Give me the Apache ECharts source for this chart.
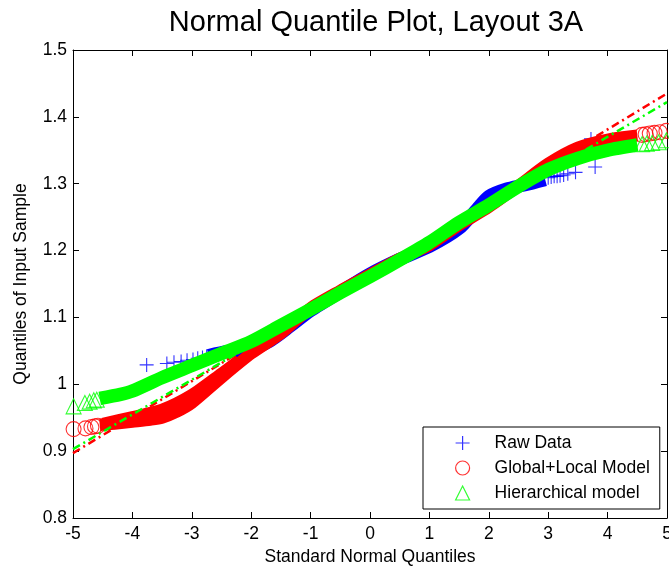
<!DOCTYPE html>
<html>
<head>
<meta charset="utf-8">
<title>Normal Quantile Plot, Layout 3A</title>
<script src="https://cdn.jsdelivr.net/npm/echarts@6/dist/echarts.min.js"></script>
<style>
  html, body { margin: 0; padding: 0; background: #fff; overflow: hidden; }
  #chart { width: 669px; height: 571px; }
</style>
</head>
<body>
<div id="chart"></div>
<script>
// Quantile pairs [standard normal quantile, sample quantile] for each data set.
// "Band" arrays trace the dense middle of each plot, "Marks" are the sparse tail points.
const rawBand = [
  [-2.72, 1.043], [-2.4, 1.049], [-2.0, 1.053], [-1.7, 1.064], [-1.4, 1.083],
  [-1.0, 1.110], [-0.5, 1.138], [0.0, 1.165], [0.5, 1.187], [1.0, 1.206],
  [1.5, 1.233], [1.8, 1.262], [2.0, 1.281], [2.3, 1.292], [2.6, 1.298], [2.95, 1.306]
];
const rawMarks = [
  [-3.76, 1.029], [-3.42, 1.031], [-3.3, 1.033], [-3.18, 1.034], [-3.08, 1.036],
  [-2.98, 1.037], [-2.9, 1.039], [-2.82, 1.040], [-2.75, 1.042],
  [3.0, 1.309], [3.05, 1.310], [3.1, 1.311], [3.15, 1.311], [3.2, 1.312],
  [3.26, 1.313], [3.33, 1.315], [3.46, 1.317], [3.79, 1.325], [3.72, 1.367]
];

const globalLocalBand = [
  [-4.55, 0.939], [-4.3, 0.941], [-4.0, 0.944], [-3.7, 0.947], [-3.5, 0.950],
  [-3.25, 0.959], [-3.0, 0.972], [-2.5, 1.010], [-2.0, 1.046], [-1.5, 1.076],
  [-1.0, 1.114], [-0.5, 1.140], [0.0, 1.164], [0.5, 1.188], [1.0, 1.208],
  [1.5, 1.238], [2.0, 1.265], [2.5, 1.297], [3.0, 1.330], [3.5, 1.354],
  [4.0, 1.366], [4.5, 1.372]
];
// Upper spread of the Global+Local runs in the lower tail
const globalLocalSpread = [
  [-4.5, 0.941], [-4.0, 0.951], [-3.5, 0.962], [-3.0, 0.984], [-2.5, 1.016], [-2.2, 1.036]
];
const globalLocalMarks = [
  [-4.99, 0.933], [-4.79, 0.934], [-4.69, 0.936], [-4.63, 0.937], [-4.58, 0.938],
  [4.58, 1.373], [4.64, 1.374], [4.71, 1.375], [4.79, 1.376], [4.88, 1.377], [4.99, 1.379]
];
const globalLocalRef = [[-5, 0.897], [5, 1.435]];

const hierBand = [
  [-4.55, 0.979], [-4.2, 0.985], [-4.0, 0.990], [-3.5, 1.010], [-3.0, 1.028],
  [-2.5, 1.046], [-2.0, 1.064], [-1.5, 1.088], [-1.0, 1.112], [-0.5, 1.137],
  [0.0, 1.161], [0.5, 1.186], [1.0, 1.212], [1.5, 1.242], [2.0, 1.268],
  [2.5, 1.296], [3.0, 1.321], [3.5, 1.338], [4.0, 1.350], [4.5, 1.358]
];
const hierMarks = [
  [-4.99, 0.967], [-4.8, 0.972], [-4.72, 0.974], [-4.65, 0.976], [-4.6, 0.977],
  [4.58, 1.359], [4.66, 1.360], [4.75, 1.361], [4.86, 1.362], [4.99, 1.365]
];
const hierRef = [[-5, 0.903], [5, 1.422]];

const seriesNames = ['Raw Data', 'Global+Local Model', 'Hierarchical model'];

const FONT = '"Liberation Sans", Arial, Helvetica, sans-serif';
const BLUE = '#0000ff', RED = '#ff0000', GREEN = '#00ff00';
const PLUS = 'path://M0,5L10,5M5,0L5,10';

function markSeries(name, data, symbol, size, color, z) {
  return {
    name: name, type: 'scatter', data: data, symbol: symbol, symbolSize: size, z: z,
    itemStyle: { color: 'rgba(0,0,0,0)', borderColor: color, borderWidth: 1.1 },
    emphasis: { disabled: true }, clip: false
  };
}
function bandSeries(name, data, color, width, z) {
  return {
    name: name, type: 'line', data: data, showSymbol: false, symbol: 'none', z: z,
    smooth: 0.25, lineStyle: { color: color, width: width, cap: 'butt', join: 'round' },
    emphasis: { disabled: true }, clip: false
  };
}
function refSeries(name, data, color, z) {
  return {
    name: name, type: 'line', data: data, showSymbol: false, symbol: 'none', z: z,
    lineStyle: { color: color, width: 2.5, type: [8, 4, 2, 4] },
    emphasis: { disabled: true }
  };
}

const axisCommon = {
  axisLine: { show: true, onZero: false, lineStyle: { color: '#000', width: 1 } },
  axisTick: { show: true, inside: true, length: 6, lineStyle: { color: '#000', width: 1 } },
  splitLine: { show: false }
};

const chart = echarts.init(document.getElementById('chart'), null, { renderer: 'canvas' });
chart.setOption({
  animation: false,
  backgroundColor: '#fff',
  textStyle: { fontFamily: FONT },
  title: {
    text: 'Normal Quantile Plot, Layout 3A',
    left: 371, top: 3, textAlign: 'center',
    textStyle: { fontFamily: FONT, fontSize: 29, fontWeight: 'normal', color: '#000' }
  },
  grid: { left: 73, right: 2, top: 50, bottom: 53, containLabel: false, outerBoundsMode: 'none' },
  legend: {
    data: seriesNames.map(function (n) { return { name: n }; }),
    orient: 'vertical', left: 423, top: 427,
    padding: [6, 10, 6, 32], itemGap: 5, itemWidth: 14, itemHeight: 14,
    backgroundColor: '#fff', borderColor: '#000', borderWidth: 1, borderRadius: 0,
    selectedMode: false,
    itemStyle: { borderWidth: 1.2 },
    textStyle: { fontFamily: FONT, fontSize: 17.5, color: '#000', lineHeight: 20, padding: [0, 0, 0, 20] }
  },
  xAxis: [
    Object.assign({
      type: 'value', position: 'bottom', min: -5, max: 5, interval: 1,
      name: 'Standard Normal Quantiles', nameLocation: 'middle', nameGap: 30,
      nameTextStyle: { fontFamily: FONT, fontSize: 17.5, color: '#000' },
      axisLabel: { fontFamily: FONT, fontSize: 17.5, color: '#000', margin: 7 }
    }, axisCommon),
    Object.assign({
      type: 'value', position: 'top', min: -5, max: 5, interval: 1,
      axisLabel: { show: false }
    }, axisCommon)
  ],
  yAxis: [
    Object.assign({
      type: 'value', position: 'left', min: 0.8, max: 1.5, interval: 0.1,
      name: 'Quantiles of Input Sample', nameLocation: 'middle', nameGap: 43,
      nameTextStyle: { fontFamily: FONT, fontSize: 17.5, color: '#000' },
      axisLabel: { fontFamily: FONT, fontSize: 17.5, color: '#000', margin: 6 }
    }, axisCommon),
    Object.assign({
      type: 'value', position: 'right', min: 0.8, max: 1.5, interval: 0.1,
      axisLabel: { show: false }
    }, axisCommon)
  ],
  series: [
    markSeries(seriesNames[0], rawMarks, PLUS, 14, BLUE, 2),
    markSeries(seriesNames[1], globalLocalMarks, 'circle', 15, RED, 3),
    markSeries(seriesNames[2], hierMarks, 'triangle', 15, GREEN, 5),
    bandSeries('Raw Data band', rawBand, BLUE, 13, 2),
    bandSeries('Global+Local band', globalLocalBand, RED, 12, 3),
    bandSeries('Global+Local spread', globalLocalSpread, RED, 12, 3),
    refSeries('Global+Local reference', globalLocalRef, RED, 4),
    bandSeries('Hierarchical band', hierBand, GREEN, 13.5, 5),
    refSeries('Hierarchical reference', hierRef, GREEN, 6)
  ]
});
</script>
</body>
</html>
